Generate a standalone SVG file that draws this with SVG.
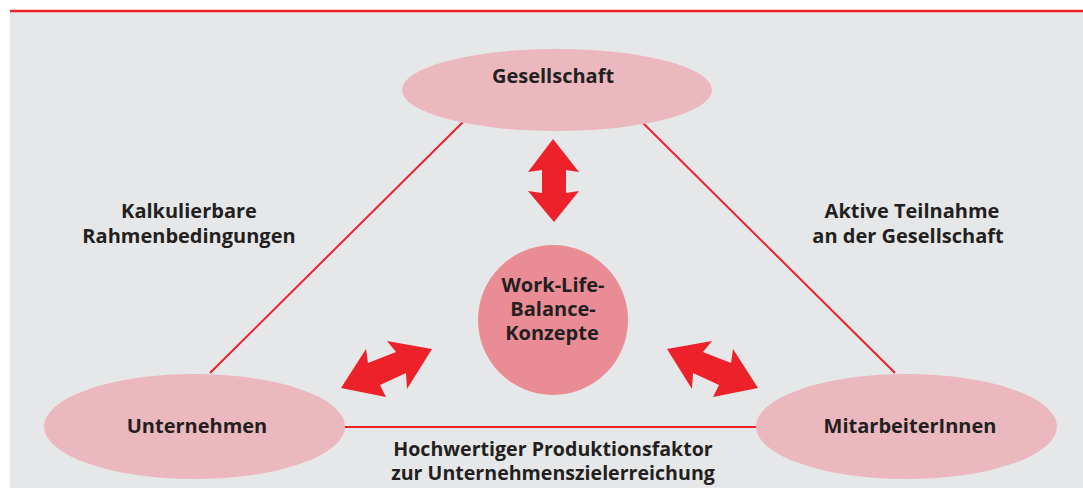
<svg xmlns="http://www.w3.org/2000/svg" width="1083" height="495" viewBox="0 0 1083 495">
<style>
.lbl{font-family:"Open Sans","Noto Sans","DejaVu Sans",sans-serif;font-weight:bold;font-size:20px;fill:#231f20;text-anchor:middle}
.sm{font-size:19.6px}
.ell{fill:#ecb8bf}
.conn{stroke:#ed2129;stroke-width:2;fill:none}
.arr{fill:#ed2129}
</style>
<rect x="0" y="0" width="1083" height="495" fill="#ffffff"/>
<rect x="10" y="11" width="1073" height="477" fill="#e6e7e8"/>
<line x1="10" y1="11" x2="1083" y2="11" stroke="#ed2129" stroke-width="2.5"/>
<g id="connectors">
<line class="conn" x1="463" y1="122" x2="210" y2="373"/>
<line class="conn" x1="642" y1="122" x2="895" y2="373"/>
<line class="conn" x1="345" y1="427" x2="756" y2="427"/>
<polygon class="arr" points="553,139 579,172 566,170 566,193 579,191 554,222 528,191 542,193 542,170 528,172"/>
<polygon class="arr" points="432,349 407,389 406,373 380,385 386,397 341,388 366,349 368,363 396,352 387,341"/>
<polygon class="arr" points="667,349 692,389 693,373 719,385 713,397 758,388 733,349 731,363 703,352 712,341"/>
</g>
<g id="gesellschaft">
<ellipse class="ell" cx="557" cy="90" rx="155" ry="41"/>
<text class="lbl" x="553" y="83">Gesellschaft</text>
</g>
<g id="unternehmen">
<ellipse class="ell" cx="194.5" cy="426.5" rx="150.5" ry="52.5"/>
<text class="lbl" x="197" y="433">Unternehmen</text>
</g>
<g id="mitarbeiterinnen">
<ellipse class="ell" cx="906.5" cy="426.5" rx="150.5" ry="52.5"/>
<text class="lbl" x="910" y="433">MitarbeiterInnen</text>
</g>
<g id="wlb">
<circle cx="553" cy="320" r="75" fill="#e98c95"/>
<text class="lbl" x="553" y="292">Work-Life-</text>
<text class="lbl" x="553" y="316">Balance-</text>
<text class="lbl" x="552" y="340">Konzepte</text>
</g>
<g id="label-left">
<text class="lbl" x="189" y="218">Kalkulierbare</text>
<text class="lbl" x="189" y="243">Rahmenbedingungen</text>
</g>
<g id="label-right">
<text class="lbl" x="912" y="218">Aktive Teilnahme</text>
<text class="lbl" x="908" y="243">an der Gesellschaft</text>
</g>
<g id="label-bottom">
<text class="lbl sm" x="553" y="456">Hochwertiger Produktionsfaktor</text>
<text class="lbl sm" x="553" y="480">zur Unternehmenszielerreichung</text>
</g>
</svg>
